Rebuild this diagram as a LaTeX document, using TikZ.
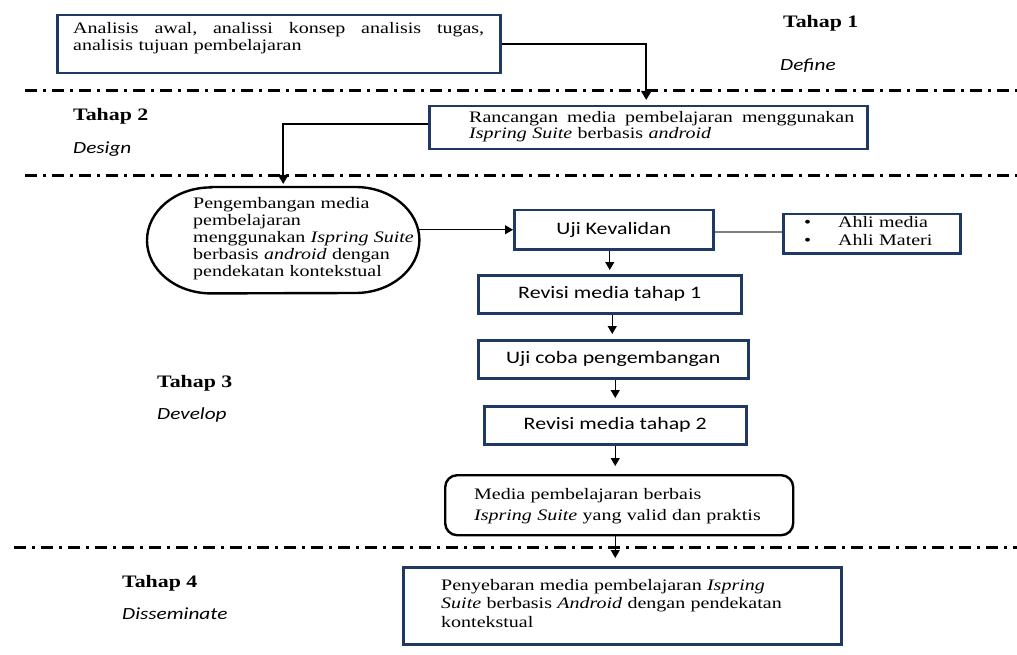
\documentclass[tikz,border=0pt]{standalone}
\usepackage{fontspec}
\setmainfont{Liberation Serif}[FakeStretch=1.25]
\newfontfamily\calfont{Carlito}[FakeStretch=1.25]
\usetikzlibrary{arrows.meta,calc}
\definecolor{navy}{HTML}{203864}
\definecolor{midgray}{HTML}{7F7F7F}
\begin{document}
\begin{tikzpicture}[x=1pt,y=-1pt,
  navybox/.style={draw=navy, line width=2.5pt, inner sep=0pt, anchor=north west},
  blackbox/.style={draw=black, line width=2.4pt, inner sep=0pt, anchor=north west},
  sansbox/.style={navybox, font=\calfont\fontsize{17.5}{20}\selectfont},
  txt/.style={inner sep=0pt, anchor=base west, align=left},
  tahap/.style={inner sep=0pt, anchor=base west, font=\fontsize{17.5}{20}\selectfont\bfseries},
  phase/.style={inner sep=0pt, anchor=base west, font=\calfont\itshape\fontsize{17}{20}\selectfont},
  dashdot/.style={line width=3pt, dash pattern=on 12pt off 6pt on 3pt off 6pt},
  arr/.style={-{Triangle[width=9pt,length=8pt]}, line width=1.3pt},
  arrthick/.style={-{Triangle[width=10pt,length=9pt]}, line width=2pt},
  link/.style={draw=midgray, line width=1.5pt}
]
\fill[white] (0,0) rectangle (1017,655);
\useasboundingbox (0,0) rectangle (1017,655);

% stage separators
\draw[dashdot] (25,91) -- (1017,91);
\draw[dashdot] (25,176) -- (1017,176);
\draw[dashdot] (14,547) -- (1017,547);

% stage labels
\node[tahap] (tahap1) at (783,28) {Tahap 1};
\node[phase] (define) at (780,71) {Define};
\node[tahap] (tahap2) at (73,121) {Tahap 2};
\node[phase] (design) at (73,154) {Design};
\node[tahap] (tahap3) at (157,387) {Tahap 3};
\node[phase] (develop) at (157,419) {Develop};
\node[tahap] (tahap4) at (122,587) {Tahap 4};
\node[phase] (dissem) at (122,619) {Disseminate};

% Tahap 1
\node[navybox, minimum width=443pt, minimum height=58pt] (box1) at (56,14) {};
\node[txt, text width=411pt, font=\fontsize{16}{16.5}\selectfont] (box1t) at (73,34)
  {Analisis\hfill awal,\hfill analissi\hfill konsep\hfill analisis\hfill tugas,\\analisis tujuan pembelajaran};

% Tahap 2
\node[navybox, minimum width=438pt, minimum height=43pt] (box2) at (428,105) {};
\node[txt, text width=385pt, font=\fontsize{16}{16}\selectfont] (box2t) at (469,123)
  {Rancangan\hfill media\hfill pembelajaran\hfill menggunakan\\\textit{Ispring Suite} berbasis \textit{android}};

% Tahap 3
\node[inner sep=0pt, anchor=north west, minimum width=272pt, minimum height=106pt] (ell) at (147,187) {};
\draw[line width=2.4pt] ([xshift=64pt]ell.north west) -- ([xshift=-64pt]ell.north east)
  arc[start angle=90, end angle=-90, x radius=64pt, y radius=53pt]
  -- ([xshift=64pt]ell.south west)
  arc[start angle=270, end angle=90, x radius=64pt, y radius=53pt] -- cycle;
\node[txt, text width=230pt, font=\fontsize{16}{16.8}\selectfont] (ellt) at (193,209)
  {Pengembangan media\\pembelajaran\\menggunakan \textit{Ispring Suite}\\berbasis \textit{android} dengan\\pendekatan kontekstual};

\node[sansbox, minimum width=199pt, minimum height=39pt] (uji) at (513,209) {Uji Kevalidan};
\node[navybox, minimum width=177pt, minimum height=39pt] (ahli) at (782,213) {};
\node[txt, text width=140pt, font=\fontsize{16}{18}\selectfont] (ahlit) at (804,227)
  {\makebox[34pt][l]{\textbullet}Ahli media\\\makebox[34pt][l]{\textbullet}Ahli Materi};

\node[sansbox, minimum width=263pt, minimum height=38pt] (rev1) at (477,274) {Revisi media tahap 1};
\node[sansbox, minimum width=270pt, minimum height=38pt] (ujicoba) at (477,339) {Uji coba pengembangan};
\node[sansbox, minimum width=262pt, minimum height=38pt] (rev2) at (483,405) {Revisi media tahap 2};

\node[blackbox, rounded corners=12pt, minimum width=348pt, minimum height=60pt] (media) at (444,474) {};
\node[txt, text width=300pt, font=\fontsize{16}{21}\selectfont] (mediat) at (474,499)
  {Media pembelajaran berbais\\\textit{Ispring Suite} yang valid dan praktis};

% Tahap 4
\node[navybox, minimum width=438pt, minimum height=77pt] (peny) at (402,566) {};
\node[txt, text width=380pt, font=\fontsize{16}{18.5}\selectfont] (penyt) at (441,590)
  {Penyebaran media pembelajaran \textit{Ispring}\\\textit{Suite} berbasis \textit{Android} dengan pendekatan\\kontekstual};

% connectors
\draw[arrthick, shorten >=5pt] (box1.east) -| ([xshift=-2pt]box2.north);
\draw[arrthick, shorten >=3pt] ([yshift=3.5pt]box2.west) -| (ell.north);
\draw[arr] (uji.west -| ell.east) -- (uji.west);
\draw[link] ([yshift=-2pt]uji.east) -- ([yshift=-2pt]uji.east -| ahli.west);
\draw[arr, shorten >=4pt] (rev1.north |- uji.south) -- (rev1.north);
\draw[arr, shorten >=5pt] ([xshift=-1pt]ujicoba.north |- rev1.south) -- ([xshift=-1pt]ujicoba.north);
\draw[arr, shorten >=7pt] (rev2.north |- ujicoba.south) -- (rev2.north);
\draw[arr, shorten >=8pt] (rev2.south) -- (rev2.south |- media.north);
\draw[arr, shorten >=8pt] (rev2.south |- media.south) -- (rev2.south |- peny.north);
\end{tikzpicture}
\end{document}
